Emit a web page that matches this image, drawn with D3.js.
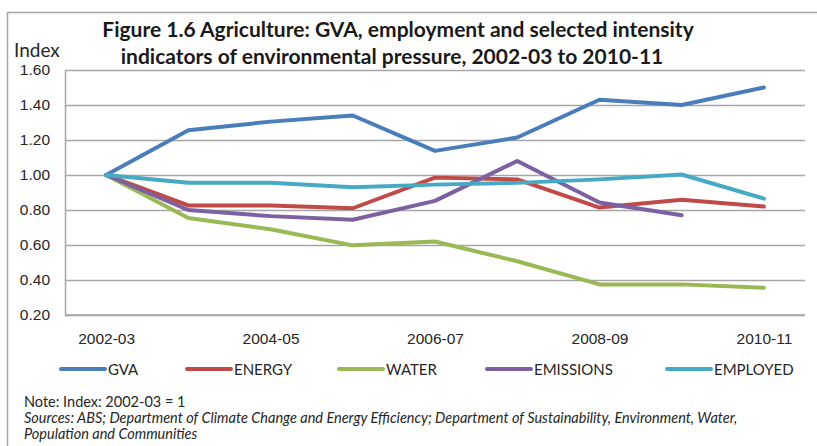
<!DOCTYPE html>
<meta charset="utf-8">
<style>
  body { margin: 0; background: #fff; }
  svg { display: block; font-family: Lato, "Liberation Sans", sans-serif; }
  .axis path.domain { stroke: #a6a6a6; stroke-width: 1.5; }
  .axis text { fill: #262626; font-size: 15.5px; }
  .grid line { stroke: #a6a6a6; stroke-width: 1.5; }
  .grid path.domain { display: none; }
  .series { fill: none; stroke-width: 4; stroke-linejoin: round; stroke-linecap: round; }
</style>
<body></body>
<script src="https://cdn.jsdelivr.net/npm/d3@7"></script>
<script>

// data
var years = ["2002-03","2003-04","2004-05","2005-06","2006-07","2007-08","2008-09","2009-10","2010-11"];
var xTickLabels = ["2002-03","2004-05","2006-07","2008-09","2010-11"];
var yTicks = [0.2, 0.4, 0.6, 0.8, 1.0, 1.2, 1.4, 1.6];

var gva       = [1.00, 1.256, 1.305, 1.34, 1.138, 1.214, 1.43, 1.40, 1.50];
var energy    = [1.00, 0.826, 0.826, 0.81, 0.985, 0.975, 0.814, 0.858, 0.82];
var water     = [1.00, 0.754, 0.69, 0.598, 0.62, 0.507, 0.375, 0.375, 0.356];
var emissions = [1.00, 0.80, 0.765, 0.744, 0.852, 1.08, 0.843, 0.77, null];
var employed  = [1.00, 0.956, 0.956, 0.93, 0.945, 0.955, 0.975, 1.003, 0.865];

var seriesNames = ["GVA", "ENERGY", "WATER", "EMISSIONS", "EMPLOYED"];
var seriesValues = [gva, energy, water, emissions, employed];
var colors = ["#4a7ebb", "#be4b48", "#98b954", "#7d60a0", "#46aac5"];

var W = 817, H = 446;
var plot = {left: 65, right: 805, top: 70, bottom: 315};

var svg = d3.select("body").append("svg")
    .attr("width", W)
    .attr("height", H);

// outer frame (runs off the right and bottom of the picture)
svg.append("rect")
    .attr("x", 7.5).attr("y", 12.5)
    .attr("width", W).attr("height", H)
    .attr("fill", "none")
    .attr("stroke", "#a6a6a6")
    .attr("stroke-width", 1.5);

var x = d3.scalePoint()
    .domain(years)
    .range([plot.left, plot.right])
    .padding(0.5);

var y = d3.scaleLinear()
    .domain([0.2, 1.6])
    .range([plot.bottom, plot.top]);

// gridlines
svg.append("g")
    .attr("class", "grid")
    .attr("transform", "translate(" + plot.left + ",0)")
    .call(d3.axisLeft(y).tickValues(yTicks).tickSize(-(plot.right - plot.left)).tickFormat(""));

// y axis
svg.append("g")
    .attr("class", "axis")
    .attr("transform", "translate(" + plot.left + ",0)")
    .call(d3.axisLeft(y).tickValues(yTicks).tickSize(0).tickPadding(15).tickFormat(d3.format(".2f")));

// x axis
svg.append("g")
    .attr("class", "axis")
    .attr("transform", "translate(0," + plot.bottom + ")")
    .call(d3.axisBottom(x).tickValues(xTickLabels).tickSize(0).tickPadding(18))
    .select("path.domain")
    .attr("d", "M" + plot.left + ",0H" + plot.right);

// lines
var line = d3.line()
    .defined(function(d) { return d.v != null; })
    .x(function(d) { return x(d.year); })
    .y(function(d) { return y(d.v); });

seriesValues.forEach(function(vals, i) {
    var pts = vals.map(function(v, j) { return {year: years[j], v: v}; });
    svg.append("path")
        .attr("class", "series")
        .attr("stroke", colors[i])
        .attr("d", line(pts));
});

// titles
var title = svg.append("text")
    .attr("text-anchor", "middle")
    .attr("font-weight", "bold")
    .attr("font-size", "21px")
    .attr("fill", "#1a1a1a");
title.append("tspan").attr("x", 398).attr("y", 37)
    .text("Figure 1.6 Agriculture: GVA, employment and selected intensity");
title.append("tspan").attr("x", 392).attr("y", 64)
    .text("indicators of environmental pressure, 2002-03 to 2010-11");

svg.append("text")
    .attr("x", 14).attr("y", 57)
    .attr("font-size", "19px")
    .attr("fill", "#262626")
    .text("Index");

// legend
var legendX = [61, 187, 339, 487, 667];
var legend = svg.selectAll(".legend")
    .data(seriesNames)
    .enter().append("g")
    .attr("transform", function(d, i) { return "translate(" + legendX[i] + ",369)"; });

legend.append("line")
    .attr("x1", 0).attr("x2", 44)
    .attr("stroke", function(d, i) { return colors[i]; })
    .attr("stroke-width", 4)
    .attr("stroke-linecap", "round");

legend.append("text")
    .attr("x", 47).attr("y", 5.5)
    .attr("font-size", "15px")
    .attr("fill", "#262626")
    .text(function(d) { return d; });

// notes
var notes = svg.append("g").attr("font-size", "14.5px").attr("fill", "#262626");
notes.append("text").attr("x", 24).attr("y", 407).text("Note: Index: 2002-03 = 1");
notes.append("text").attr("x", 24).attr("y", 423).attr("font-style", "italic")
    .text("Sources: ABS; Department of Climate Change and Energy Efficiency; Department of Sustainability, Environment, Water,");
notes.append("text").attr("x", 24).attr("y", 439).attr("font-style", "italic")
    .text("Population and Communities");

</script>
